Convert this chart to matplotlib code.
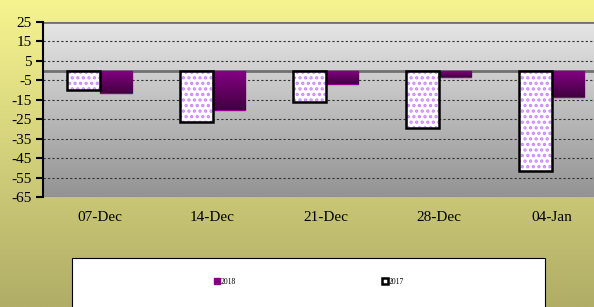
import numpy as np
import matplotlib.pyplot as plt
from matplotlib.patches import Rectangle
from matplotlib.colors import LinearSegmentedColormap

categories = ['07-Dec', '14-Dec', '21-Dec', '28-Dec', '04-Jan']
vals_2017 = [-10, -26.3, -16, -29.6, -51.6]
vals_2018 = [-11.5, -20.3, -7, -3.3, -13.6]
yticks = [25, 15, 5, -5, -15, -25, -35, -45, -55, -65]

plt.rcParams['font.family'] = ['Liberation Serif', 'DejaVu Serif']
plt.rcParams['hatch.linewidth'] = 1.6

fig = plt.figure(figsize=(5.94, 3.07), dpi=100)

# figure background gradient (yellow -> olive)
bg = fig.add_axes([0, 0, 1, 1], zorder=-10)
bg_cmap = LinearSegmentedColormap.from_list('bg', ['#f6f48f', '#b0ad67'])
bg.imshow(np.linspace(0, 1, 256).reshape(-1, 1), aspect='auto', cmap=bg_cmap,
          extent=[0, 1, 0, 1])
bg.set_axis_off()

ax = fig.add_axes([43 / 594, 1 - 197 / 307, 551 / 594, 175 / 307])
x = np.arange(len(categories))
w = 0.29
ax.set_xlim(-0.5, 4.376)
ax.set_ylim(-65, 25)

# plot area gradient
pa_cmap = LinearSegmentedColormap.from_list('pa', ['#e6e6e6', '#939393'])
ax.imshow(np.linspace(0, 1, 256).reshape(-1, 1), aspect='auto', cmap=pa_cmap,
          extent=[-0.5, 4.376, -65, 25], zorder=0)

for t in yticks:
    ax.axhline(t, color='#333333', lw=0.8, ls=(0, (2, 2)), zorder=1)
ax.axhline(0, color='#707070', lw=2, zorder=2)
ax.axhline(25, color='#707070', lw=2, zorder=2)

# 2017: white with lilac dots, black border
ax.bar(x - w / 2, vals_2017, w, color='white', edgecolor='#cc88ff',
       lw=0, hatch='...', zorder=3)
bars17 = ax.bar(x - w / 2, vals_2017, w, fill=False, edgecolor='black',
                lw=1.8, zorder=3.6, label='2017')
bars18 = ax.bar(x + w / 2, vals_2018, w, color='#800080', edgecolor='#8a008a',
                lw=1, zorder=3, label='2018')

purple = LinearSegmentedColormap.from_list('pu', ['#850085', '#420040'])
for b in bars18:
    bx, by = b.get_x(), b.get_y()
    bw, bh = b.get_width(), b.get_height()
    im = ax.imshow(np.linspace(0, 1, 64).reshape(-1, 1), aspect='auto', cmap=purple,
                   extent=[bx, bx + bw, by + bh, by], zorder=3.5)
    im.set_clip_path(b)

ax.set_yticks(yticks)
ax.set_yticklabels([str(t) for t in yticks])
ax.set_xticks(x)
ax.set_xticklabels(categories)
ax.tick_params(axis='y', direction='out', length=5, width=1.5, labelsize=11, pad=3)
ax.tick_params(axis='x', length=0, labelsize=11, pad=10)
for s in ['top', 'right', 'bottom']:
    ax.spines[s].set_visible(False)
ax.spines['left'].set_linewidth(1.5)

# legend box
fig.patches.append(Rectangle((72 / 594, -0.02), 473 / 594, 1 - 258 / 307 + 0.02,
                             transform=fig.transFigure, facecolor='white',
                             edgecolor='black', lw=0.8, zorder=5))
leg = fig.legend(handles=[bars18, bars17], labels=['2018', '2017'], loc='center',
                 bbox_to_anchor=(309 / 594, 1 - 282 / 307), ncol=2, frameon=False,
                 fontsize=5.5, handlelength=0.8, handleheight=0.8, handletextpad=0.1,
                 columnspacing=19)
leg.set_zorder(6)

fig.savefig('out.png', dpi=100)
